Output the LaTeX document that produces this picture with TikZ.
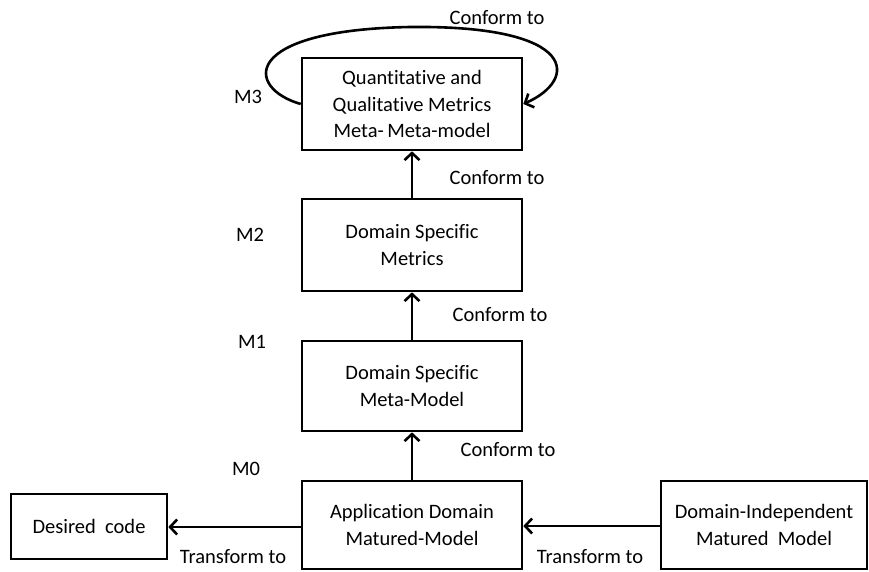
\documentclass[tikz,border=0pt]{standalone}
\usepackage{fontspec}
\setmainfont{Carlito}[Ligatures=NoCommon]
\usetikzlibrary{arrows.meta}
\begin{document}
\begin{tikzpicture}[x=1pt,y=-1pt,
  font=\fontsize{20.5}{26.5}\selectfont,
  box/.style={draw, line width=2.6pt, align=center, inner sep=0pt},
  conn/.style={line width=2.6pt, -{Straight Barb[length=7pt,width=15pt,line width=2.6pt]}},
  lbl/.style={inner sep=0pt}]
\useasboundingbox (0,0) rectangle (869,571);

% model layers
\node[box, minimum width=220pt, minimum height=92pt] (m3) at (412,104)
  {Quantitative and\\Qualitative Metrics\\Meta-\,Meta-model};
\node[box, minimum width=220pt, minimum height=92pt] (m2) at (412,245)
  {Domain Specific\\Metrics};
\node[box, minimum width=220pt, minimum height=90pt] (m1) at (412,386)
  {Domain Specific\\Meta-Model};
\node[box, minimum width=220pt, minimum height=88pt] (m0) at (412,525)
  {Application Domain\\Matured-Model};
\node[box, minimum width=156pt, minimum height=65pt] (code) at (89,526.5)
  {Desired\ \ code};
\node[box, minimum width=206pt, minimum height=88pt] (indep) at (764,525)
  {Domain-Independent\\Matured\ \ Model};

% level labels
\node[lbl] (l3) at (248,97) {M3};
\node[lbl] (l2) at (250,235) {M2};
\node[lbl] (l1) at (252,342) {M1};
\node[lbl] (l0) at (246,469) {M0};

% connectors
\draw[conn] (m2) -- (m3);
\draw[conn] (m1) -- (m2);
\draw[conn] (m0) -- (m1);
\draw[conn] (m0.west |- 0,527) -- (code.east |- 0,527);
\draw[conn] (indep.west |- 0,526) -- (m0.east |- 0,526);
\coordinate (top) at (410,27);
\draw[conn] (m3.west) .. controls (245,88) and (240,30) .. (top)
  .. controls (580,25) and (578,80) .. (m3.east);

% connector labels
\node[lbl] (c3) at (497,18) {Conform to};
\node[lbl] (c2) at (497,178) {Conform to};
\node[lbl] (c1) at (500,315) {Conform to};
\node[lbl] (c0) at (508,450) {Conform to};
\node[lbl] (t1) at (233,557) {Transform to};
\node[lbl] (t2) at (590,557) {Transform to};
\end{tikzpicture}
\end{document}
